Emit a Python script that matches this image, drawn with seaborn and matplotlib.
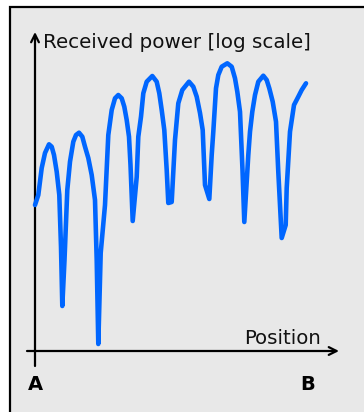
import matplotlib
matplotlib.use('Agg')
import matplotlib.pyplot as plt
import seaborn as sns
import pandas as pd
from matplotlib.patches import Rectangle

# --- data: received power along the path from A to B (arbitrary units) ---
position = [0, 3.3, 6.7, 10, 14, 16.7, 19, 21.7, 24.3, 26, 27.3,
            29.5, 32.3, 35, 38.3, 41, 44, 47.3, 50, 53.3, 56.7, 60, 61.7, 63.3,
            65.7, 70, 73.3, 76.7, 80, 83.3, 86.7, 89.3, 91.7, 94, 95.5, 97.7,
            101.7, 103.3, 106, 108.3, 111.7, 117.3, 121.7, 124.3, 126.7, 129.3, 131.7, 133.3,
            136.7, 140, 143.3, 147.3, 154, 158.3, 161.7, 165, 167.7, 170, 174.3,
            176.7, 178.3, 181, 183.3, 186.7, 192.3, 196.7, 200, 202.3, 205, 206, 207.5, 209.3,
            213.3, 215, 217.3, 220, 223.3, 228.3, 231.7, 234.3, 237.7, 241, 243.3, 246.7,
            250.7, 251.7, 255, 259, 263.3, 266.7, 271]
power = [146, 156, 183, 198, 206.7, 204.3, 196, 179.3, 156, 104, 45,
         91, 161, 189.3, 209.3, 216, 218.3, 214.3, 204.3, 193, 176, 151, 91, 7,
         98, 146, 216, 241, 252.7, 256, 252.7, 244.3, 231, 214.3, 186, 130,
         174, 214.3, 234.3, 257.7, 269.3, 275, 269.3, 257.7, 241, 221, 181, 148,
         149, 211, 247.7, 261, 269.3, 264.3, 254.3, 238, 221, 166, 152,
         196, 219.3, 262.7, 276, 284.3, 287.7, 284.3, 272.7, 259.3, 239.3, 216, 181, 129,
         196, 219.3, 239.3, 256, 269.3, 275.3, 271, 262.7, 249.3, 229.3, 179, 113,
         126, 163, 219.3, 246, 254.3, 261, 267.7]

y_label = "Received power [log scale]"
x_label = "Position"
start_label, end_label = "A", "B"

df = pd.DataFrame({"position": position, "power": power})

sns.set_style("white")
plt.rcParams['font.family'] = ['DejaVu Sans']

fig = plt.figure(figsize=(3.64, 4.12), dpi=100)
ax = fig.add_axes([0, 0, 1, 1])
ax.set_xlim(-35, 329)
ax.set_ylim(-61, 351)
ax.axis('off')

# grey panel with black frame (only top/left edges visible)
ax.add_patch(Rectangle((-25, -200), 600, 544, facecolor='#e8e8e8',
                       edgecolor='black', linewidth=1.6, zorder=0))

sns.lineplot(data=df, x="position", y="power", ax=ax, color='#0066ff',
             linewidth=3.3, sort=False, zorder=3,
             solid_capstyle='round', solid_joinstyle='round')

# axes arrows
arrow = dict(arrowstyle='->', color='black', lw=1.6, mutation_scale=14,
             shrinkA=0, shrinkB=0)
ax.annotate('', xy=(0, 319), xytext=(0, -15), arrowprops=arrow, zorder=2)
ax.annotate('', xy=(304, 0), xytext=(-8, 0), arrowprops=arrow, zorder=2)

ax.text(8, 303, y_label, fontsize=14.3, color='#111111', ha='left', va='baseline')
ax.text(286, 7, x_label, fontsize=14.2, color='#111111', ha='right', va='baseline')
ax.text(0, -33, start_label, fontsize=14, fontweight='bold', color='black',
        ha='center', va='center')
ax.text(273, -33, end_label, fontsize=14, fontweight='bold', color='black',
        ha='center', va='center')

plt.savefig('out.png', dpi=100)
plt.close()
